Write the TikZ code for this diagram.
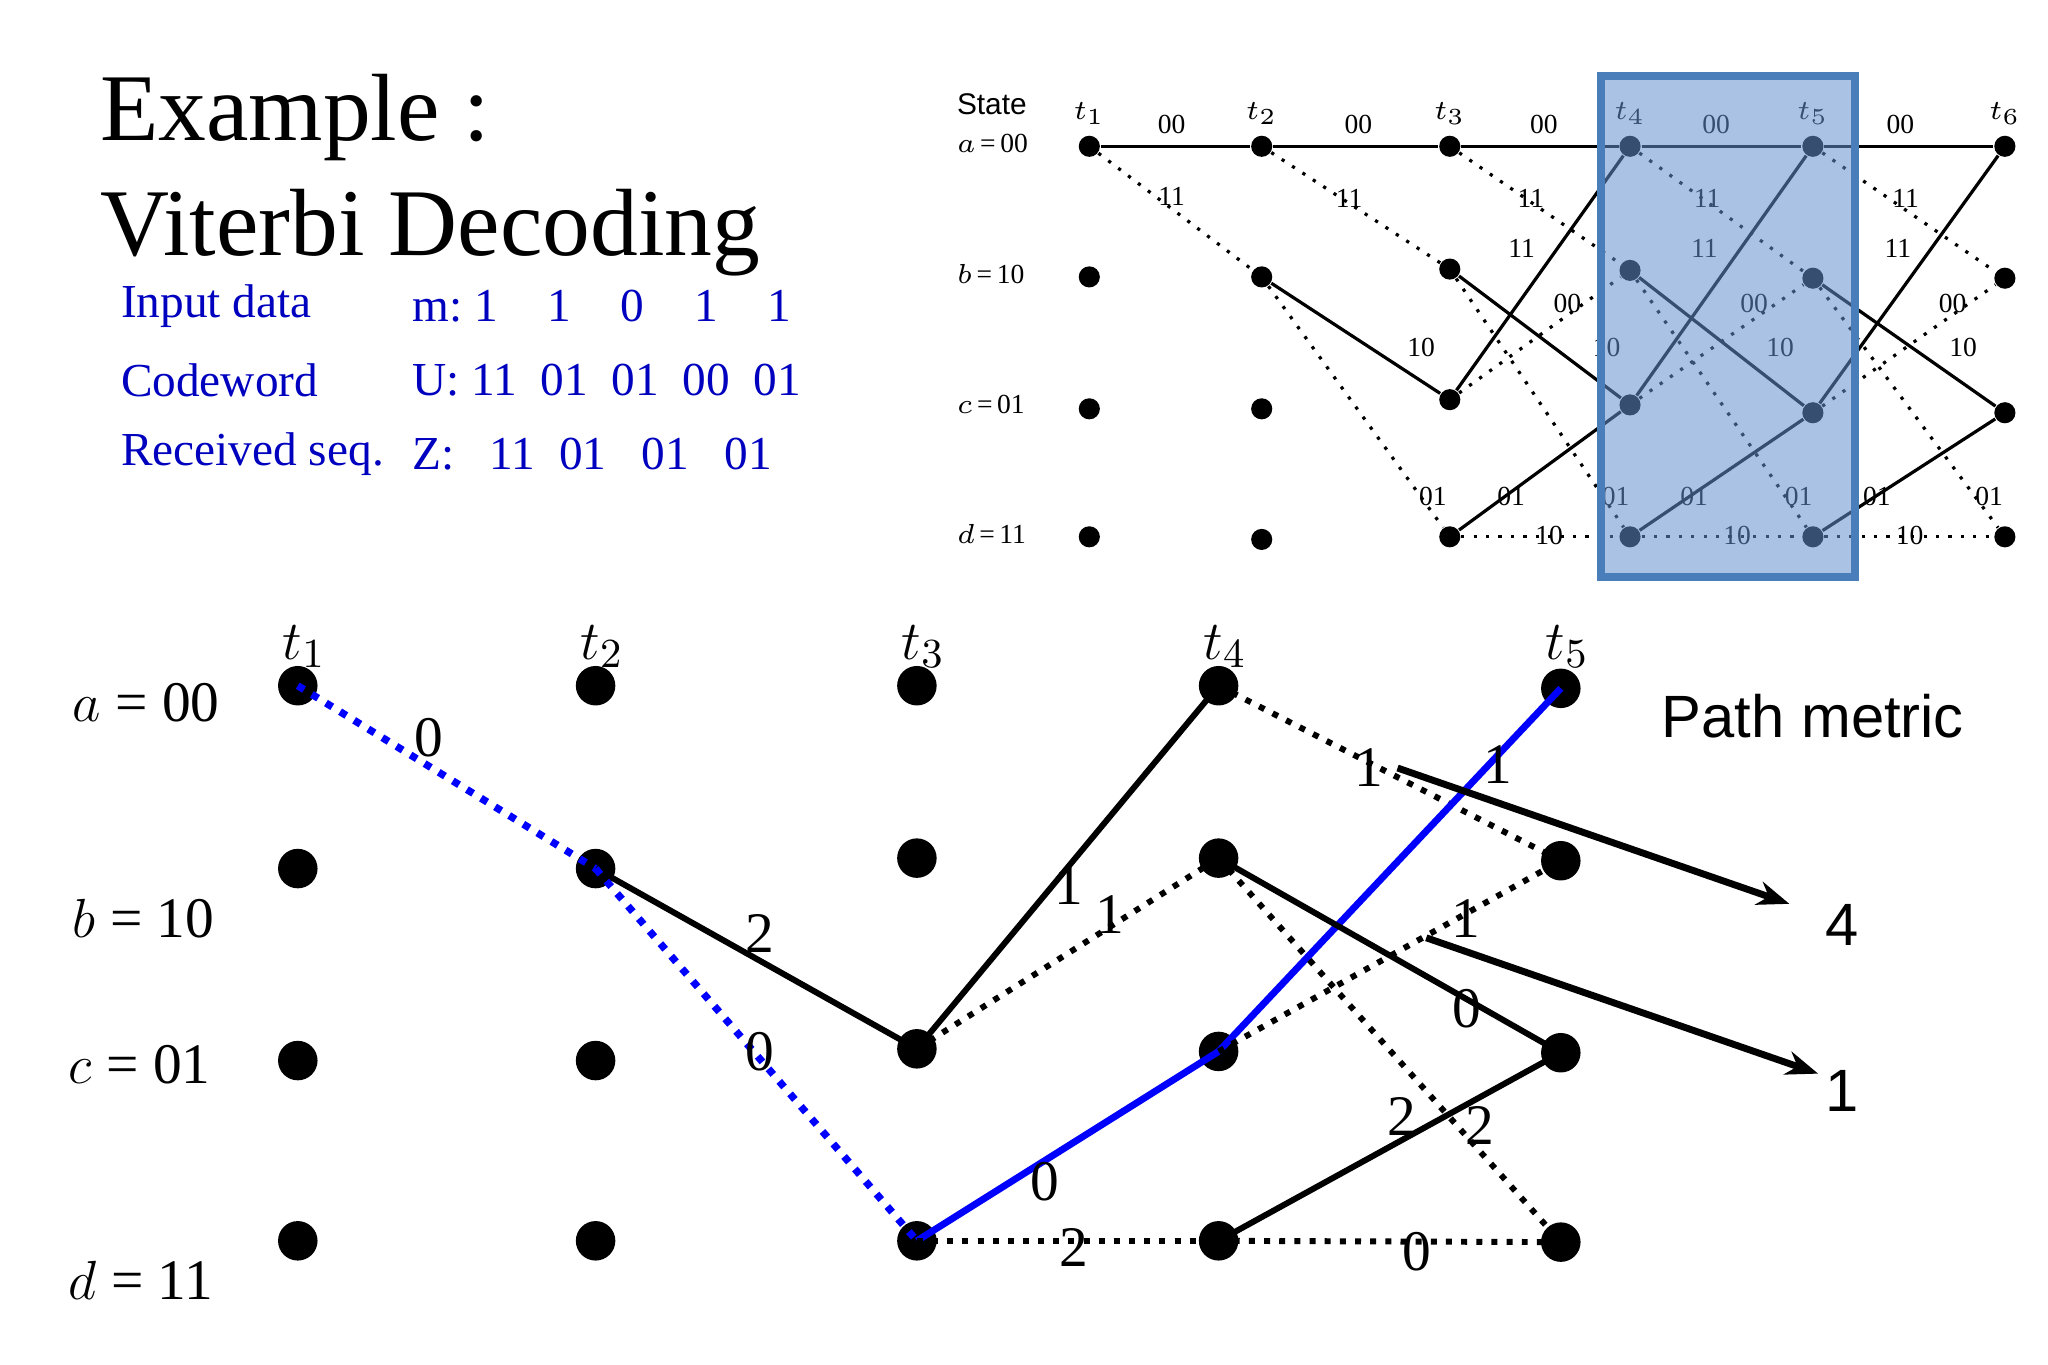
\documentclass[tikz,border=0pt]{standalone}
\usepackage{fontspec}
\setmainfont{Liberation Serif}
\setsansfont{Liberation Sans}
\usetikzlibrary{arrows.meta}
\begin{document}
\begin{tikzpicture}[x=0.01cm,y=-0.01cm,
  dot/.style={circle,fill=black,inner sep=0pt,minimum size=8.6pt},
  sdot/.style={circle,fill=black,inner sep=0pt,minimum size=4.6pt},
  solidl/.style={line width=1.3pt},
  dotl/.style={line width=1.3pt,dotted},
  bsol/.style={line width=1.5pt,blue},
  bdot/.style={line width=1.6pt,blue,dotted},
  lab/.style={font=\fontsize{12.5}{12.5}\selectfont,inner sep=0pt},
  slab/.style={font=\fontsize{6}{6}\selectfont,inner sep=0pt},
  ssol/.style={line width=0.7pt},
  sdotl/.style={line width=0.7pt,dotted},
  btxt/.style={font=\fontsize{10.3}{10.3}\selectfont,text=blue!75!black,anchor=west,inner sep=0pt},
  arr/.style={line width=1.5pt,-{Stealth[length=7pt]}}]
\useasboundingbox (0,0) rectangle (1568,1045);
% title
\node[anchor=west,inner sep=0pt,font=\fontsize{20.8}{20.8}\selectfont] (t1x) at (76,90) {Example :};
\node[anchor=west,inner sep=0pt,font=\fontsize{20.8}{20.8}\selectfont] (t2x) at (76,178) {Viterbi Decoding};
\node[btxt] (i1) at (92,234) {Input data};
\node[btxt] (i2) at (315,234) {m:\ 1\hspace{1.05em}1\hspace{1.05em}0\hspace{1.05em}1\hspace{1.05em}1};
\node[btxt] (c1) at (92,291) {Codeword};
\node[btxt] (c2) at (315,291) {U: 11\ \ 01\ \ 01\ \ 00\ \ 01};
\node[btxt] (r1) at (92,348) {Received seq.};
\node[btxt] (r2) at (315,348) {Z:\ \ \ 11\ \ 01\ \ \ 01\ \ \ 01};
% ---------- top-right trellis
\foreach \n/\x in {1/834,2/966,3/1110,4/1248,5/1388,6/1535}{
  \node[slab] (tt\n) at (\x,87) {$t_{\n}$};}
\node[sdot] (A1) at (834,112) {}; \node[sdot] (B1) at (834,212) {}; \node[sdot] (C1) at (834,313) {}; \node[sdot] (D1) at (834,411) {};
\node[sdot] (A2) at (966,112) {}; \node[sdot] (B2) at (966,212) {}; \node[sdot] (C2) at (966,313) {}; \node[sdot] (D2) at (966,413) {};
\node[sdot] (A3) at (1110,112) {}; \node[sdot] (B3) at (1110,206) {}; \node[sdot] (C3) at (1110,306) {}; \node[sdot] (D3) at (1110,411) {};
\node[sdot] (A4) at (1248,112) {}; \node[sdot] (B4) at (1248,207) {}; \node[sdot] (C4) at (1248,310) {}; \node[sdot] (D4) at (1248,411) {};
\node[sdot] (A5) at (1388,112) {}; \node[sdot] (B5) at (1388,213) {}; \node[sdot] (C5) at (1388,316) {}; \node[sdot] (D5) at (1388,411) {};
\node[sdot] (A6) at (1535,112) {}; \node[sdot] (B6) at (1535,213) {}; \node[sdot] (C6) at (1535,316) {}; \node[sdot] (D6) at (1535,411) {};
\node[anchor=west,inner sep=0pt,font=\sffamily\fontsize{6.5}{6.5}\selectfont] (st) at (732,80) {State};
\node[anchor=west,slab] (sa) at (732,110) {$a$\,=\,00};
\node[anchor=west,slab] (sb) at (732,210) {$b$\,=\,10};
\node[anchor=west,slab] (sc) at (732,310) {$c$\,=\,01};
\node[anchor=west,slab] (sd) at (732,409) {$d$\,=\,11};
\foreach \i/\j/\mx in {1/2/897,2/3/1040,3/4/1182,4/5/1314,5/6/1455}{
  \draw[ssol] (A\i)--(A\j); \node[slab] at (\mx,95) {00};
  \draw[sdotl] (A\i)--(B\j);}
\foreach \p/\q in {897/150,1033/152,1172/152,1307/152,1459/152}{\node[slab] at (\p,\q) {11};}
\foreach \i/\j in {2/3,3/4,4/5,5/6}{\draw[ssol] (B\i)--(C\j); \draw[sdotl] (B\i)--(D\j);}
\foreach \p in {1088,1230,1363,1503}{\node[slab] at (\p,266) {10};}
\foreach \p in {1097,1237,1377,1523}{\node[slab] at (\p,380) {01};}
\foreach \i/\j in {3/4,4/5,5/6}{\draw[ssol] (C\i)--(A\j); \draw[sdotl] (C\i)--(B\j);
  \draw[ssol] (D\i)--(C\j); \draw[sdotl] (D\i)--(D\j);}
\foreach \p in {1165,1305,1453}{\node[slab] at (\p,190) {11};}
\foreach \p in {1200,1343,1495}{\node[slab] at (\p,232) {00};}
\foreach \p in {1157,1297,1437}{\node[slab] at (\p,380) {01};}
\foreach \p in {1186,1330,1462}{\node[slab] at (\p,410) {10};}
\draw[line width=1.8pt,draw={rgb,255:red,74;green,126;blue,187},fill={rgb,255:red,100;green,145;blue,205},fill opacity=0.55] (1226,58) rectangle (1420,442);
% ---------- bottom trellis
\foreach \n/\x in {1/228,2/456,3/702,4/933,5/1195}{
  \node[lab] (bt\n) at (\x+5,495) {$t_{\n}$};}
\node[dot] (a1) at (228,525) {}; \node[dot] (b1) at (228,665) {}; \node[dot] (c1) at (228,812) {}; \node[dot] (d1) at (228,950) {};
\node[dot] (a2) at (456,525) {}; \node[dot] (b2) at (456,665) {}; \node[dot] (c2) at (456,812) {}; \node[dot] (d2) at (456,950) {};
\node[dot] (a3) at (702,525) {}; \node[dot] (b3) at (702,657) {}; \node[dot] (c3) at (702,803) {}; \node[dot] (d3) at (702,950) {};
\node[dot] (a4) at (933,525) {}; \node[dot] (b4) at (933,657) {}; \node[dot] (c4) at (933,805) {}; \node[dot] (d4) at (933,950) {};
\node[dot] (a5) at (1195,527) {}; \node[dot] (b5) at (1195,659) {}; \node[dot] (c5) at (1195,806) {}; \node[dot] (d5) at (1195,951) {};
\node[lab,anchor=west] (la) at (55,538) {$a$ = 00};
\node[lab,anchor=west] (lb) at (55,703) {$b$ = 10};
\node[lab,anchor=west] (lc) at (52,815) {$c$ = 01};
\node[lab,anchor=west] (ld) at (52,980) {$d$ = 11};
\draw[bdot] (a1.center)--(b2.center); \node[lab] at (328,565) {0};
\draw[solidl] (b2.center)--(c3.center); \node[lab] at (582,715) {2};
\draw[bdot] (b2.center)--(d3.center); \node[lab] at (582,805) {0};
\draw[solidl] (c3.center)--(a4.center); \node[lab] at (818,678) {1};
\draw[dotl] (c3.center)--(b4.center); \node[lab] at (850,700) {1};
\draw[bsol] (d3.center)--(c4.center); \node[lab] at (800,905) {0};
\draw[dotl] (d3.center)--(d4.center); \node[lab] at (822,955) {2};
\draw[dotl] (a4.center)--(b5.center); \node[lab] at (1048,588) {1};
\draw[bsol] (c4.center)--(a5.center); \node[lab] at (1147,585) {1};
\draw[solidl] (b4.center)--(c5.center); \node[lab] at (1123,772) {0};
\draw[dotl] (b4.center)--(d5.center); \node[lab] at (1073,855) {2};
\draw[dotl] (c4.center)--(b5.center); \node[lab] at (1122,703) {1};
\draw[solidl] (d4.center)--(c5.center); \node[lab] at (1133,862) {2};
\draw[dotl] (d4.center)--(d5.center); \node[lab] at (1085,958) {0};
\coordinate (s1) at (1070,588); \coordinate (s2) at (1092,718);
\node[font=\sffamily\fontsize{13}{13}\selectfont,inner sep=0pt] (pm) at (1388,548) {Path metric};
\node[font=\sffamily\fontsize{13}{13}\selectfont,inner sep=0pt] (m4) at (1410,708) {4};
\node[font=\sffamily\fontsize{13}{13}\selectfont,inner sep=0pt] (m1) at (1410,835) {1};
\coordinate (e1) at (1370,692); \coordinate (e2) at (1392,822);
\draw[arr] (s1) -- (e1);
\draw[arr] (s2) -- (e2);
\end{tikzpicture}
\end{document}
